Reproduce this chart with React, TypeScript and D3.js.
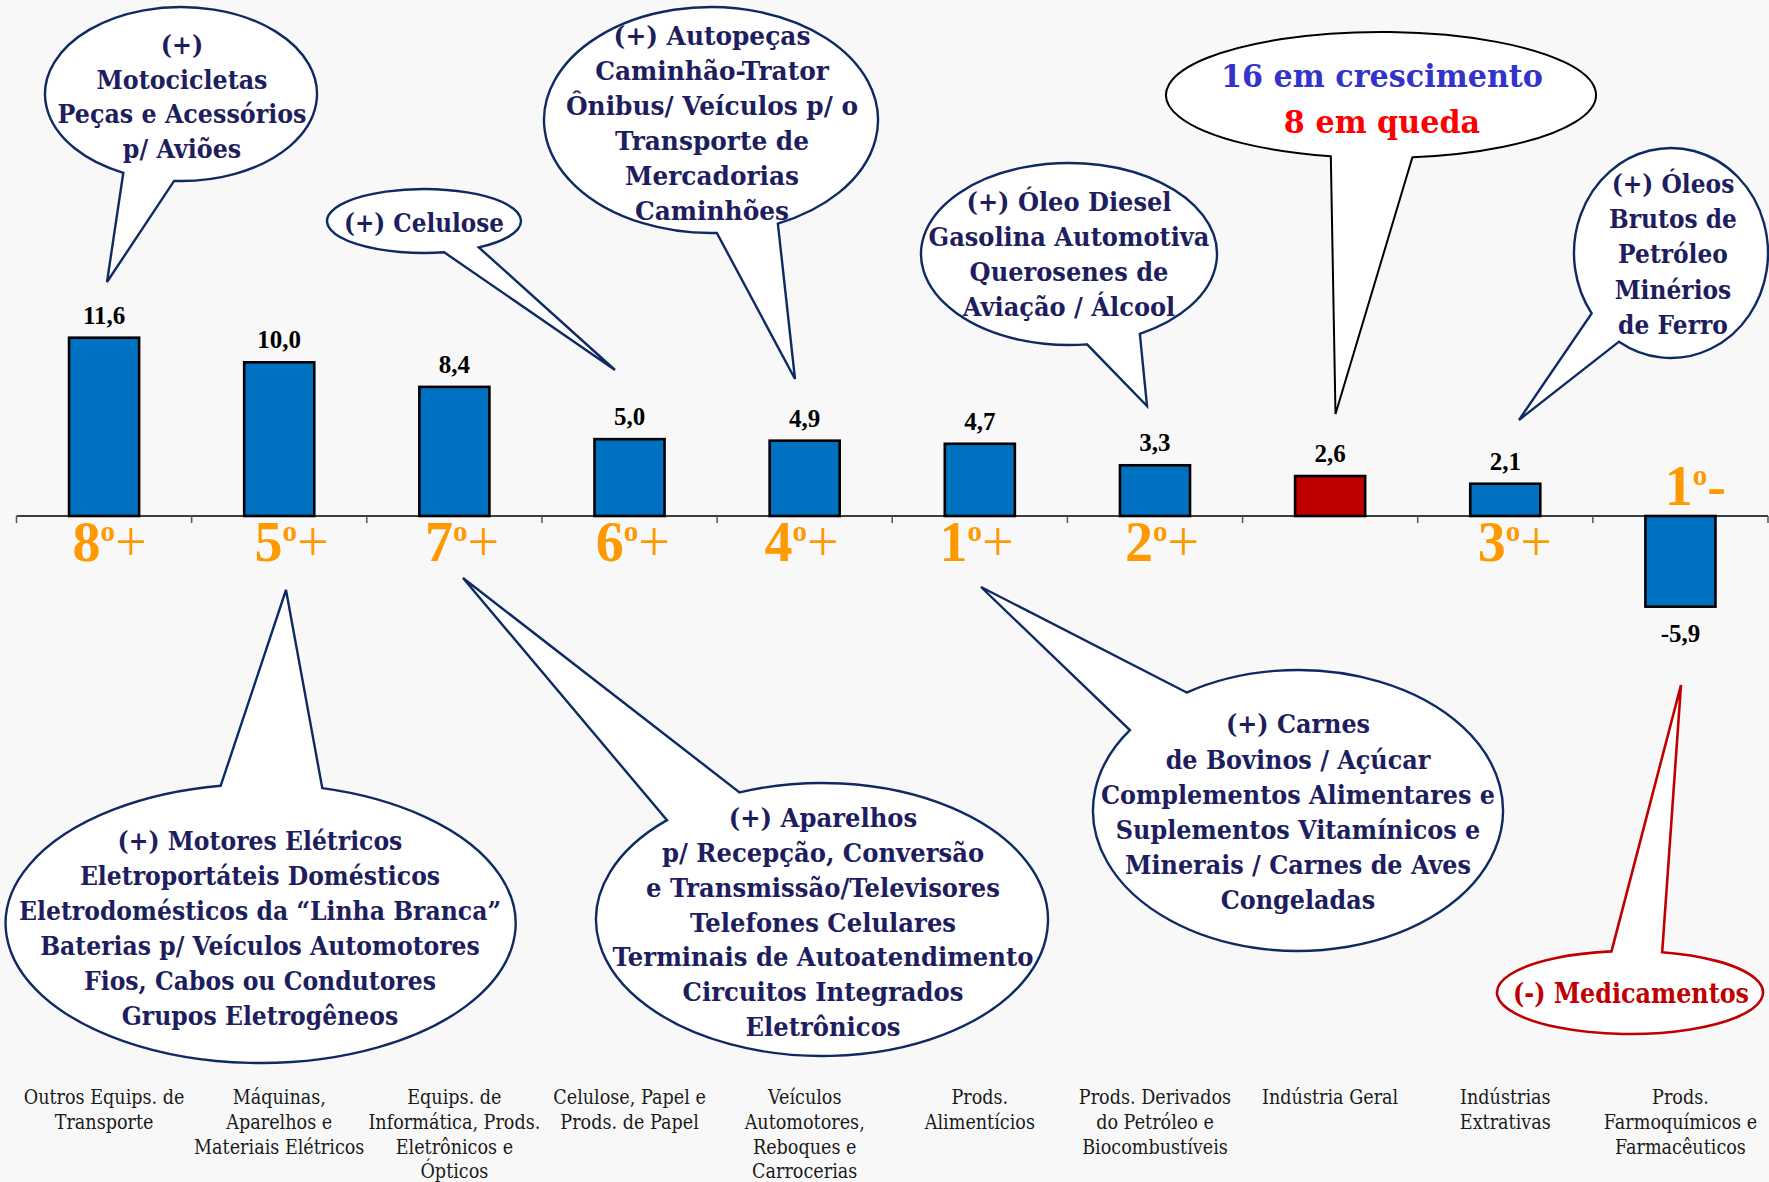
import React, { useLayoutEffect, useRef, useState } from 'react';
import * as d3 from 'd3';

// ---------------- DATA ----------------
const categories = [
  'Outros Equips. de Transporte',
  'Máquinas, Aparelhos e Materiais Elétricos',
  'Equips. de Informática, Prods. Eletrônicos e Ópticos',
  'Celulose, Papel e Prods. de Papel',
  'Veículos Automotores, Reboques e Carrocerias',
  'Prods. Alimentícios',
  'Prods. Derivados do Petróleo e Biocombustíveis',
  'Indústria Geral',
  'Indústrias Extrativas',
  'Prods. Farmoquímicos e Farmacêuticos',
];
const categoryLines = [
  ['Outros Equips. de', 'Transporte'],
  ['Máquinas,', 'Aparelhos e', 'Materiais Elétricos'],
  ['Equips. de', 'Informática, Prods.', 'Eletrônicos e', 'Ópticos'],
  ['Celulose, Papel e', 'Prods. de Papel'],
  ['Veículos', 'Automotores,', 'Reboques e', 'Carrocerias'],
  ['Prods.', 'Alimentícios'],
  ['Prods. Derivados', 'do Petróleo e', 'Biocombustíveis'],
  ['Indústria Geral'],
  ['Indústrias', 'Extrativas'],
  ['Prods.', 'Farmoquímicos e', 'Farmacêuticos'],
];
const values = [11.6, 10.0, 8.4, 5.0, 4.9, 4.7, 3.3, 2.6, 2.1, -5.9];
const highlightCategory = 'Indústria Geral';
const rankNumbers = ['8', '5', '7', '6', '4', '1', '2', '', '3', '1'];
const rankSigns = ['+', '+', '+', '+', '+', '+', '+', '', '+', '-'];

// ---------------- LAYOUT / STYLE ----------------
const W = 1769;
const H = 1182;
const AXIS_Y = 516;
const PX_PER_UNIT = 15.37;
const X0 = 16.5;
const X1 = 1768;
const rankNudges = [5.4, 12.3, 7.6, 3.2, -3.2, -3.3, 7, 0, 9.5, 15];

const BG = '#F8F8F8';
const BAR_BLUE = '#0070C0';
const BAR_RED = '#C00000';
const ORANGE = '#FF9900';
const NAVY = '#0F2A63';
const TEXT_NAVY = '#1E1E5E';
const SERIF_CALLOUT = "'DejaVu Serif', serif";
const SERIF_TIMES = "'Liberation Serif', 'Times New Roman', serif";

type Callout = {
  id: string;
  cx: number; cy: number; rx: number; ry: number;
  a1: number; a2: number; tip: [number, number];
  lines: string[]; centers: number[]; tx: number; width: number; fs: number;
  stroke: string; colors: string[]; sw: number;
};

const seq = (first: number, lh: number, n: number) => Array.from({ length: n }, (_, i) => first + i * lh);

const callouts: Callout[] = [
  {
    id: 'moto', cx: 181, cy: 94, rx: 136, ry: 87, a1: 92.9, a2: 115.1, tip: [107, 282],
    lines: ['(+)', 'Motocicletas', 'Peças e Acessórios', 'p/ Aviões'],
    centers: seq(45.5, 34.4, 4), tx: 182, width: 249, fs: 26, stroke: NAVY, colors: [TEXT_NAVY], sw: 2.4,
  },
  {
    id: 'celulose', cx: 424, cy: 221, rx: 97, ry: 32, a1: 55.6, a2: 78, tip: [615, 370],
    lines: ['(+) Celulose'],
    centers: [223], tx: 424, width: 160, fs: 26, stroke: NAVY, colors: [TEXT_NAVY], sw: 2.4,
  },
  {
    id: 'autopecas', cx: 711, cy: 120, rx: 167, ry: 113, a1: 66.4, a2: 88, tip: [795, 379],
    lines: ['(+) Autopeças', 'Caminhão-Trator', 'Ônibus/ Veículos p/ o', 'Transporte de', 'Mercadorias', 'Caminhões'],
    centers: seq(36, 35, 6), tx: 712, width: 292, fs: 26, stroke: NAVY, colors: [TEXT_NAVY], sw: 2.4,
  },
  {
    id: 'diesel', cx: 1069, cy: 254, rx: 148, ry: 91, a1: 61.4, a2: 83, tip: [1147, 406],
    lines: ['(+) Óleo Diesel', 'Gasolina Automotiva', 'Querosenes de', 'Aviação / Álcool'],
    centers: seq(202, 35, 4), tx: 1069, width: 281, fs: 26, stroke: NAVY, colors: [TEXT_NAVY], sw: 2.4,
  },
  {
    id: 'cresc', cx: 1381, cy: 95, rx: 215, ry: 63, a1: 81.6, a2: 103.5, tip: [1335.5, 414],
    lines: ['16 em crescimento', '8 em queda'],
    centers: [76.6, 121.9], tx: 1382, width: 322, fs: 32, stroke: '#000000', colors: ['#3333CC', '#FF0000'], sw: 2,
  },
  {
    id: 'oleos', cx: 1671, cy: 253, rx: 97, ry: 105, a1: 122.4, a2: 144.9, tip: [1519, 420],
    lines: ['(+) Óleos', 'Brutos de', 'Petróleo', 'Minérios', 'de Ferro'],
    centers: seq(184, 35.3, 5), tx: 1673, width: 128, fs: 26, stroke: NAVY, colors: [TEXT_NAVY], sw: 2.4,
  },
  {
    id: 'motores', cx: 260.6, cy: 923.5, rx: 255, ry: 139.5, a1: -99, a2: -76, tip: [286, 590],
    lines: ['(+) Motores Elétricos', 'Eletroportáteis Domésticos', 'Eletrodomésticos da “Linha Branca”', 'Baterias p/ Veículos Automotores', 'Fios, Cabos ou Condutores', 'Grupos Eletrogêneos'],
    centers: seq(841, 35, 6), tx: 260, width: 482, fs: 26, stroke: NAVY, colors: [TEXT_NAVY], sw: 2.4,
  },
  {
    id: 'aparelhos', cx: 822, cy: 919.5, rx: 226, ry: 136.5, a1: -133.3, a2: -111.4, tip: [463, 578],
    lines: ['(+) Aparelhos', 'p/ Recepção, Conversão', 'e Transmissão/Televisores', 'Telefones Celulares', 'Terminais de Autoatendimento', 'Circuitos Integrados', 'Eletrônicos'],
    centers: seq(818, 34.9, 7), tx: 823, width: 421, fs: 26, stroke: NAVY, colors: [TEXT_NAVY], sw: 2.4,
  },
  {
    id: 'carnes', cx: 1298, cy: 810.5, rx: 205, ry: 140.5, a1: -145.1, a2: -122.9, tip: [981, 587],
    lines: ['(+) Carnes', 'de Bovinos / Açúcar', 'Complementos Alimentares e', 'Suplementos Vitamínicos e', 'Minerais / Carnes de Aves', 'Congeladas'],
    centers: seq(724.6, 35.1, 6), tx: 1298, width: 394, fs: 26, stroke: NAVY, colors: [TEXT_NAVY], sw: 2.4,
  },
  {
    id: 'medic', cx: 1630, cy: 992.5, rx: 133, ry: 41.5, a1: -98, a2: -76, tip: [1681, 685],
    lines: ['(-) Medicamentos'],
    centers: [994], tx: 1631, width: 236, fs: 27, stroke: '#C00000', colors: ['#C00000'], sw: 2.6,
  },
];

const CAT_FONT = 20;
const CAT_TARGET = 172; // width of widest category line

function bubblePath(c: Callout): string {
  const P = (a: number) => [c.cx + c.rx * Math.cos((a * Math.PI) / 180), c.cy + c.ry * Math.sin((a * Math.PI) / 180)];
  const lo = Math.min(c.a1, c.a2);
  const hi = Math.max(c.a1, c.a2);
  const p1 = P(lo);
  const p2 = P(hi);
  return `M${p2[0]},${p2[1]} A${c.rx},${c.ry} 0 1 1 ${p1[0]},${p1[1]} L${c.tip[0]},${c.tip[1]} Z`;
}

export default function App() {
  const refs = useRef<Record<string, SVGGElement | null>>({});
  const [scales, setScales] = useState<Record<string, number>>({});

  useLayoutEffect(() => {
    document.body.style.margin = '0';
    const measure = () => {
      const s: Record<string, number> = {};
      callouts.forEach((c) => {
        const g = refs.current[c.id];
        if (!g) return;
        let max = 0;
        g.querySelectorAll('text').forEach((t) => {
          max = Math.max(max, (t as SVGTextElement).getComputedTextLength());
        });
        s[c.id] = max > 0 ? c.width / max : 1;
      });
      const cg = refs.current['cats'];
      if (cg) {
        let max = 0;
        cg.querySelectorAll('text').forEach((t) => {
          max = Math.max(max, (t as SVGTextElement).getComputedTextLength());
        });
        s['cats'] = max > 0 ? CAT_TARGET / max : 1;
      }
      setScales(s);
    };
    measure();
    if ((document as any).fonts && (document as any).fonts.ready) {
      (document as any).fonts.ready.then(measure);
    }
  }, []);

  const x = d3.scaleBand<string>().domain(categories).range([X0, X1]).paddingInner(0).paddingOuter(0);
  const bw = x.bandwidth();
  const y = d3
    .scaleLinear()
    .domain([-6, 12])
    .range([AXIS_Y + 6 * PX_PER_UNIT, AXIS_Y - 12 * PX_PER_UNIT]);

  const boundaries = d3.range(categories.length + 1).map((i) => X0 + i * bw);
  const catScale = scales['cats'] ?? 1;

  return (
    <svg
      width={W}
      height={H}
      viewBox={`0 0 ${W} ${H}`}
      style={{ display: 'block', position: 'absolute', left: 0, top: 0 }}
    >
      <rect x={0} y={0} width={W} height={H} fill={BG} />

      {/* axis */}
      <line x1={X0} x2={X1} y1={y(0)} y2={y(0)} stroke="#000" strokeWidth={1.6} />
      {boundaries.map((bx, i) => (
        <line key={i} x1={bx} x2={bx} y1={y(0)} y2={y(0) + 7} stroke="#555" strokeWidth={1.5} />
      ))}

      {/* bars */}
      {categories.map((c, i) => {
        const v = values[i];
        const x0 = (x(c) as number) + bw * 0.3;
        const top = y(Math.max(0, v));
        const h = Math.abs(y(v) - y(0));
        return (
          <rect
            key={c}
            x={x0}
            y={top}
            width={bw * 0.4}
            height={h}
            fill={c === highlightCategory ? BAR_RED : BAR_BLUE}
            stroke="#000"
            strokeWidth={2.6}
          />
        );
      })}

      {/* value labels */}
      {categories.map((c, i) => {
        const v = values[i];
        const cx = (x(c) as number) + bw / 2;
        const yy = v >= 0 ? y(v) - 14 : y(v) + 35;
        return (
          <text
            key={c}
            x={cx}
            y={yy}
            textAnchor="middle"
            fontFamily={SERIF_TIMES}
            fontWeight="bold"
            fontSize={25}
            fill="#000"
          >
            {v.toFixed(1).replace('.', ',')}
          </text>
        );
      })}

      {/* rank labels */}
      {categories.map((c, i) => {
        if (!rankNumbers[i]) return null;
        const v = values[i];
        const cx = (x(c) as number) + bw / 2 + rankNudges[i];
        const base = v >= 0 ? 561 : 505;
        return (
          <text key={c} x={cx} y={base} textAnchor="middle" fontFamily={SERIF_TIMES} fill={ORANGE} fontSize={56}>
            <tspan fontWeight="bold">{rankNumbers[i]}</tspan>
            <tspan fontWeight="bold" fontSize={29} dy={-20}>o</tspan>
            <tspan fontWeight={rankSigns[i] === '-' ? 'bold' : 'normal'} dy={20}>
              {rankSigns[i]}
            </tspan>
          </text>
        );
      })}

      {/* category labels */}
      <g ref={(el) => { refs.current['cats'] = el; }}>
        {categories.map((c, i) => {
          const cx = (x(c) as number) + bw / 2;
          return (
            <g key={c} transform={`translate(${cx},0) scale(${catScale},1)`}>
              {categoryLines[i].map((ln, j) => (
                <text
                  key={j}
                  x={0}
                  y={1104 + j * 24.8}
                  textAnchor="middle"
                  fontFamily={SERIF_CALLOUT}
                  fontSize={CAT_FONT}
                  fill="#1a1a1a"
                >
                  {ln}
                </text>
              ))}
            </g>
          );
        })}
      </g>

      {/* callouts */}
      {callouts.map((c) => {
        const s = scales[c.id] ?? 1;
        return (
          <g key={c.id}>
            <path d={bubblePath(c)} fill="#FFFFFF" stroke={c.stroke} strokeWidth={c.sw} strokeLinejoin="miter" />
            <g
              ref={(el) => { refs.current[c.id] = el; }}
              transform={`translate(${c.tx},0) scale(${s},1)`}
            >
              {c.lines.map((ln, j) => (
                <text
                  key={j}
                  x={0}
                  y={c.centers[j] + 0.34 * c.fs}
                  textAnchor="middle"
                  fontFamily={SERIF_CALLOUT}
                  fontWeight="bold"
                  fontSize={c.fs}
                  fill={c.colors[Math.min(j, c.colors.length - 1)]}
                >
                  {ln}
                </text>
              ))}
            </g>
          </g>
        );
      })}
    </svg>
  );
}
